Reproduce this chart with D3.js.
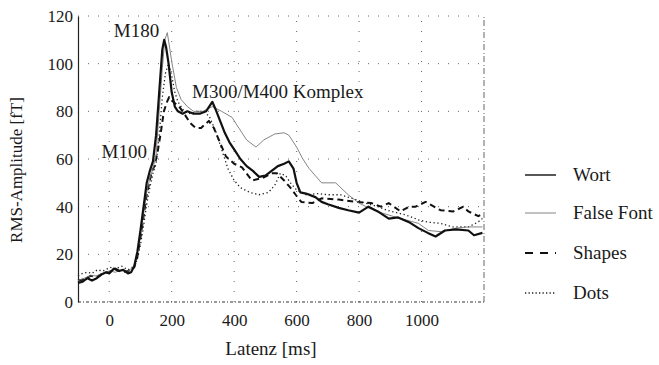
<!DOCTYPE html>
<html><head><meta charset="utf-8">
<script src="https://cdn.jsdelivr.net/npm/d3@7"></script>
<style>
body{margin:0;background:#fff;}
text{font-family:"Liberation Serif","Times New Roman",serif;fill:#1a1a1a;}
</style></head>
<body><svg id="c" width="659" height="365"></svg>
<script>
// ---- data ----
const seriesNames = ["Wort","False Font","Shapes","Dots"];
const wort = [[-100,8],[-85,8.5],[-70,10],[-55,9],[-40,10],[-25,11.5],[-10,12.5],[0,12],[15,14],[30,13],[45,13.5],[60,12],[70,12.5],[80,15],[90,21],[100,30],[110,40],[120,50],[130,55],[140,59],[150,70],[160,88],[170,106],[176,110],[182,107],[190,100],[200,88],[210,82],[220,80],[235,79],[250,80],[270,79],[290,79],[310,80],[320,82],[330,84],[340,81],[355,76],[370,71],[385,67],[400,64],[420,60],[440,57],[460,55],[480,52.5],[500,53],[520,55],[540,57],[560,58],[575,59],[590,56],[600,50],[612,46],[630,45.5],[660,44],[680,42],[700,41],[735,39.5],[765,38.5],[800,37.5],[830,40],[860,38],[895,35],[925,35.5],[960,33.5],[990,31],[1020,29],[1045,27.5],[1075,30],[1110,30.5],[1150,30],[1168,28],[1195,29]];
const falseFont = [[-100,9],[-80,10],[-60,11],[-40,11],[-20,12],[0,13],[20,12.5],[40,13.5],[60,13],[80,15],[90,20],[100,28],[110,37],[120,46],[130,52],[140,56],[150,62],[160,80],[170,98],[178,110],[186,113],[200,101],[215,90],[230,85],[250,82],[270,80],[300,80],[330,82],[360,80],[393,77.5],[415,73],[440,68],[470,65],[495,68],[530,70.5],[560,71],[575,70],[600,65],[620,60],[640,56],[680,50],[725,50],[765,45],[800,41.5],[830,39.5],[870,37.5],[920,35.5],[990,33],[1022,30],[1064,29.5],[1110,31],[1150,31.5],[1195,31.5]];
const shapes = [[-100,9],[-80,9.5],[-60,11],[-40,10.5],[-20,12],[0,12.5],[20,14],[40,12.5],[60,13],[80,14.5],[90,19],[100,27],[110,36],[120,45],[130,51],[137,55],[145,57],[155,63],[165,71],[175,80],[185,84],[192,86],[205,84],[224,82],[240,79],[260,75],[277,73],[294,73],[319,76],[335,73],[351,68],[374,61],[400,58],[425,56.5],[457,51],[490,52],[520,54],[537,54],[560,51],[580,48],[597,45],[615,42],[650,41.5],[680,43.5],[735,43],[790,42],[840,41.5],[870,40],[895,41.5],[933,38],[960,40],[981,40],[1013,42],[1040,40],[1061,38.5],[1102,38],[1134,40],[1150,38],[1182,36],[1195,37]];
const dots = [[-100,11],[-85,12],[-70,12.5],[-55,12],[-38,13.5],[-20,13],[3,14.5],[20,14],[40,15],[60,13.5],[80,15],[90,18],[100,24],[110,32],[120,41],[130,48],[140,54],[150,58],[160,70],[170,86],[180,96],[190,100],[200,95],[210,88],[220,84],[240,80],[260,79],[280,80],[300,80],[320,78],[340,72],[360,64],[380,56],[400,51],[420,48],[450,46],[480,45],[510,46],[530,49],[548,54],[565,53],[580,50],[600,47],[630,45],[670,45.5],[700,45],[740,45],[790,43],[820,41.5],[860,40],[890,38.5],[950,36.5],[990,34.5],[1020,33.5],[1060,33],[1100,31.5],[1150,31.5],[1180,33.5],[1195,35]];
const xTicks = [0,200,400,600,800,1000];
const yTicks = [0,20,40,60,80,100,120];
const annotations = [["M180",160,111,"end"],["M100",121,60.5,"end"],["M300/M400 Komplex",265,85.5,"start"]];

// ---- chart ----
const svg = d3.select("#c");
const x = d3.scaleLinear().domain([-100,1200]).range([78,484]);
const y = d3.scaleLinear().domain([0,120]).range([302,16]);

const grid = svg.append("g").attr("stroke","#666").attr("stroke-width",1).attr("stroke-dasharray","1,9");
yTicks.filter(d=>d>0).forEach(d=>grid.append("line").attr("x1",x(-100)).attr("x2",x(1200)).attr("y1",y(d)).attr("y2",y(d)));
xTicks.forEach(d=>grid.append("line").attr("x1",x(d)).attr("x2",x(d)).attr("y1",y(0)).attr("y2",y(120)));

// frame: bottom dotted-dash, right dash-dot
svg.append("line").attr("x1",x(-100)).attr("x2",x(1200)).attr("y1",y(0)).attr("y2",y(0))
  .attr("stroke","#333").attr("stroke-width",1).attr("stroke-dasharray","3,2,1,2");
svg.append("line").attr("x1",x(1200)).attr("x2",x(1200)).attr("y1",y(0)).attr("y2",y(120))
  .attr("stroke","#666").attr("stroke-width",1).attr("stroke-dasharray","6,2,1,3");

const yAxis = svg.append("g").attr("transform",`translate(${x(-100)},0)`)
  .call(d3.axisLeft(y).tickValues(yTicks).tickSize(0).tickPadding(5));
yAxis.select(".domain").attr("stroke","#222").attr("stroke-width",1.2);
yAxis.selectAll("text").style("font-size","17px").attr("fill","#1a1a1a").style("font-family","'Liberation Serif',serif");

const xAxis = svg.append("g").attr("transform",`translate(0,${y(0)})`)
  .call(d3.axisBottom(x).tickValues(xTicks).tickFormat(d3.format("d")).tickSize(0).tickPadding(12));
xAxis.select(".domain").remove();
xAxis.selectAll("text").style("font-size","17px").attr("fill","#1a1a1a").style("font-family","'Liberation Serif',serif");

svg.append("text").attr("x",271).attr("y",355).attr("text-anchor","middle").style("font-size","19px").text("Latenz [ms]");
svg.append("text").attr("transform","translate(22,170) rotate(-90)").attr("text-anchor","middle").style("font-size","17px").text("RMS-Amplitude [fT]");

const line = d3.line().x(d=>x(d[0])).y(d=>y(d[1])).curve(d3.curveLinear);
const styles = [
  {data:wort, stroke:"#111", w:2.2, dash:null},
  {data:falseFont, stroke:"#777", w:0.9, dash:null},
  {data:shapes, stroke:"#111", w:2, dash:"6,4"},
  {data:dots, stroke:"#222", w:1.3, dash:"1.3,2.6"}
];
styles.slice().reverse().forEach(s=>{
  svg.append("path").attr("d",line(s.data)).attr("fill","none").attr("stroke",s.stroke)
    .attr("stroke-width",s.w).attr("stroke-dasharray",s.dash).attr("stroke-linejoin","round");
});

annotations.forEach(a=>{
  svg.append("text").attr("x",x(a[1])).attr("y",y(a[2])).attr("text-anchor",a[3]).style("font-size","19px").text(a[0]);
});

// legend
const legendY = [175,213,253,293];
seriesNames.forEach((n,i)=>{
  const s = styles[i];
  svg.append("line").attr("x1",525).attr("x2",556).attr("y1",legendY[i]).attr("y2",legendY[i])
    .attr("stroke",s.stroke).attr("stroke-width",i===0?1.4:(i===2?2:s.w)).attr("stroke-dasharray",i===2?"8,7":(i===3?"1.3,2.2":null));
  svg.append("text").attr("x",573).attr("y",legendY[i]+6).style("font-size","19px").text(n);
});
</script></body></html>
